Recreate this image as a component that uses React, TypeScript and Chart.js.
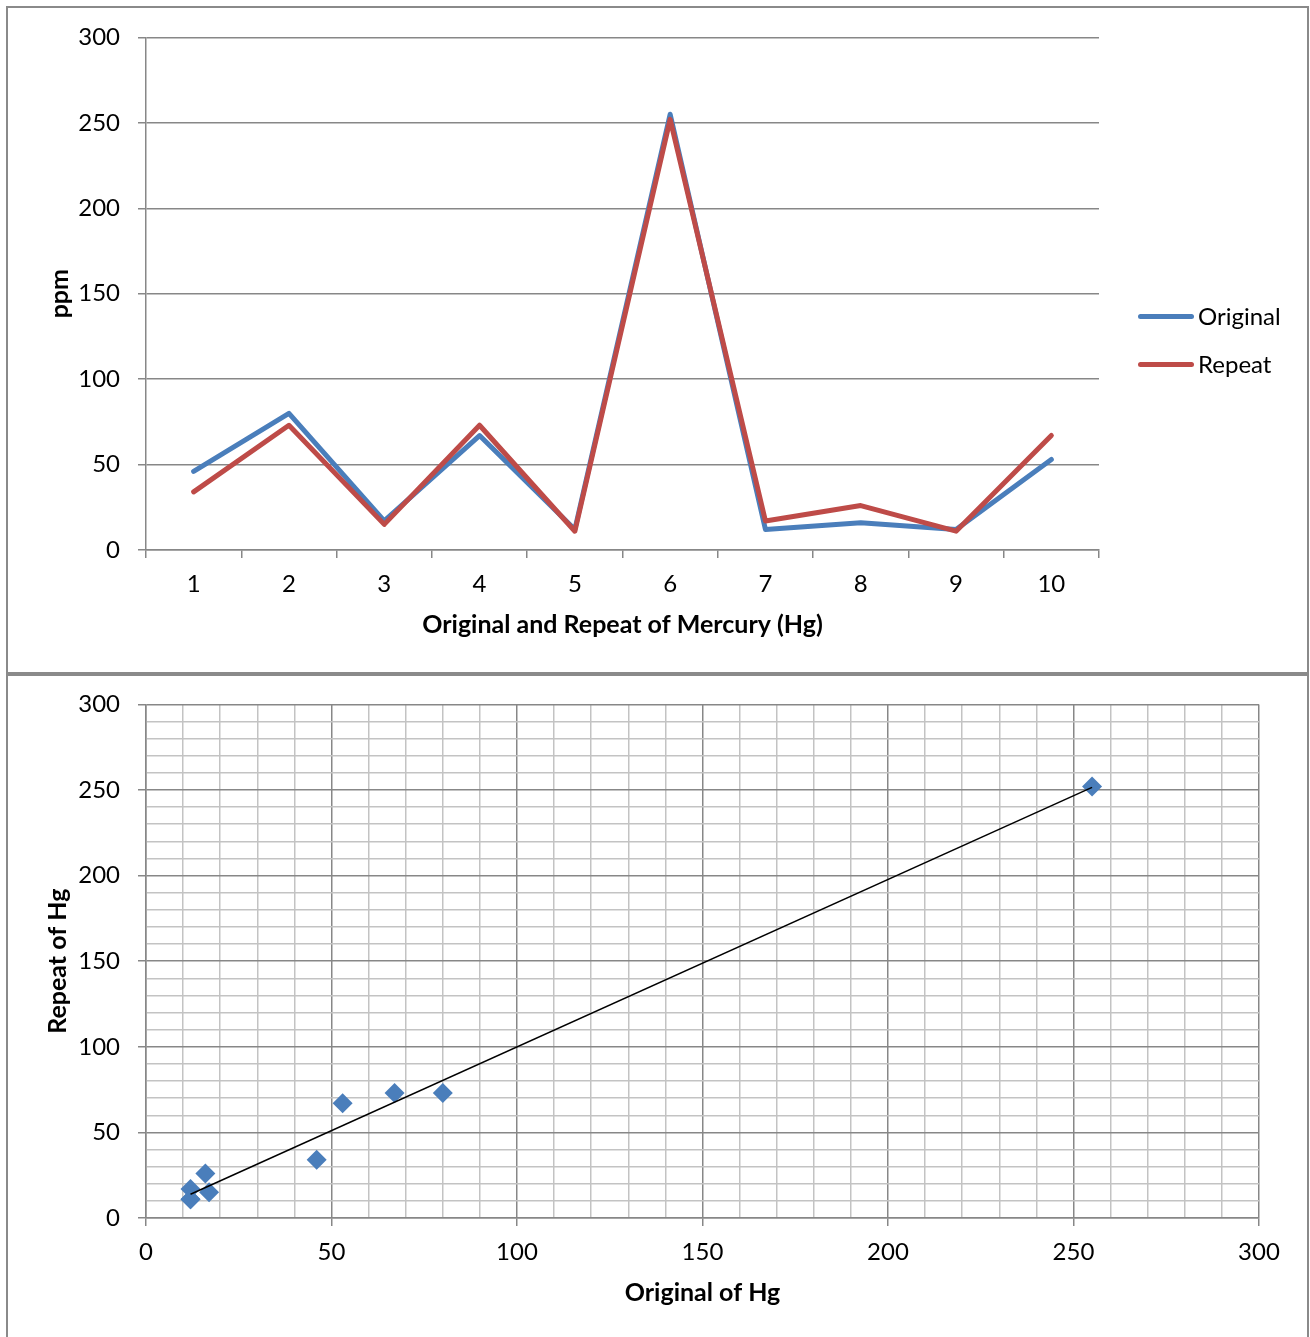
import React, { useEffect, useRef } from 'react';
import { Chart, registerables } from 'chart.js';

Chart.register(...registerables);

// Mercury (Hg) results, ppm: first analysis and repeat analysis for each sample
const samples = ['1', '2', '3', '4', '5', '6', '7', '8', '9', '10'];
const originalHg = [46, 80, 17, 67, 12, 255, 12, 16, 12, 53];
const repeatHg = [34, 73, 15, 73, 11, 252, 17, 26, 11, 67];
const seriesNames = ['Original', 'Repeat'];

const BLUE = '#4a7ebb';
const RED = '#be4b48';
const AXIS_GRAY = '#878787';
const MINOR_GRAY = '#c3c3c3';
const FONT = 'Lato, "Open Sans", sans-serif';

const tickFont = { family: FONT, size: 24 };
const titleFont = { family: FONT, size: 25, weight: 'bold' as const };

// least-squares line of repeat vs original
function fitLine(xs: number[], ys: number[]) {
  const n = xs.length;
  const mx = xs.reduce((a, b) => a + b, 0) / n;
  const my = ys.reduce((a, b) => a + b, 0) / n;
  let sxy = 0;
  let sxx = 0;
  for (let i = 0; i < n; i++) {
    sxy += (xs[i] - mx) * (ys[i] - my);
    sxx += (xs[i] - mx) * (xs[i] - mx);
  }
  const slope = sxy / sxx;
  const intercept = my - slope * mx;
  const x0 = Math.min(...xs);
  const x1 = Math.max(...xs);
  return [
    { x: x0, y: intercept + slope * x0 },
    { x: x1, y: intercept + slope * x1 },
  ];
}

function LineChart() {
  const ref = useRef<HTMLCanvasElement | null>(null);
  useEffect(() => {
    if (!ref.current) return;
    const chart = new Chart(ref.current, {
      type: 'line',
      data: {
        labels: samples,
        datasets: [
          {
            label: seriesNames[0],
            data: originalHg,
            borderColor: BLUE,
            backgroundColor: BLUE,
            borderWidth: 5,
            pointRadius: 0,
            tension: 0,
            borderJoinStyle: 'round',
            borderCapStyle: 'round',
            order: 1,
          },
          {
            label: seriesNames[1],
            data: repeatHg,
            borderColor: RED,
            backgroundColor: RED,
            borderWidth: 5,
            pointRadius: 0,
            tension: 0,
            borderJoinStyle: 'round',
            borderCapStyle: 'round',
            order: 0,
          },
        ],
      },
      options: {
        animation: false,
        responsive: false,
        devicePixelRatio: 1,
        layout: { padding: { left: 36, right: 208, top: 20, bottom: 20 } },
        plugins: { legend: { display: false }, tooltip: { enabled: false } },
        scales: {
          x: {
            offset: true,
            grid: {
              offset: true,
              drawOnChartArea: false,
              drawTicks: true,
              tickLength: 8,
              color: AXIS_GRAY,
              lineWidth: 1.5,
            },
            border: { display: true, color: AXIS_GRAY, width: 1.5 },
            ticks: { font: tickFont, color: '#000', padding: 12, maxRotation: 0 },
            title: {
              display: true,
              text: 'Original and Repeat of Mercury (Hg)',
              font: titleFont,
              color: '#000',
              padding: { top: 0, bottom: 11 },
            },
            afterFit: (s: any) => {
              s.height = 101;
            },
          },
          y: {
            min: 0,
            max: 300,
            ticks: { stepSize: 50, font: tickFont, color: '#000', padding: 18 },
            grid: { color: AXIS_GRAY, lineWidth: 1.5, tickLength: 8 },
            border: { display: true, color: AXIS_GRAY, width: 1.5 },
            title: {
              display: true,
              text: 'ppm',
              font: titleFont,
              color: '#000',
              padding: 0,
            },
            afterFit: (s: any) => {
              s.width = 101;
            },
          },
        },
      },
    } as any);
    return () => chart.destroy();
  }, []);
  return <canvas ref={ref} width={1298} height={666} style={{ display: 'block' }} />;
}

function ScatterChart() {
  const ref = useRef<HTMLCanvasElement | null>(null);
  useEffect(() => {
    if (!ref.current) return;
    const points = originalHg.map((x, i) => ({ x, y: repeatHg[i] }));
    const trend = fitLine(originalHg, repeatHg);
    const isMajor = (v: number) => Math.round(v) % 50 === 0;
    const gridColor = (ctx: any) => (ctx.tick && isMajor(ctx.tick.value) ? AXIS_GRAY : MINOR_GRAY);
    const tickColor = (ctx: any) => (ctx.tick && isMajor(ctx.tick.value) ? AXIS_GRAY : 'rgba(0,0,0,0)');
    const majorLabel = (v: any) => (isMajor(Number(v)) ? String(v) : '');
    const chart = new Chart(ref.current, {
      type: 'scatter',
      data: {
        datasets: [
          {
            label: 'Repeat of Hg',
            data: points,
            pointStyle: 'rectRot',
            pointRadius: 10,
            backgroundColor: BLUE,
            borderColor: BLUE,
            borderWidth: 0,
            order: 1,
          },
          {
            label: 'Linear trend',
            data: trend,
            type: 'line',
            showLine: true,
            borderColor: '#000',
            borderWidth: 1.5,
            pointRadius: 0,
            fill: false,
            order: 0,
          },
        ],
      },
      options: {
        animation: false,
        responsive: false,
        devicePixelRatio: 1,
        layout: { padding: { left: 34, right: 48, top: 20, bottom: 19 } },
        plugins: { legend: { display: false }, tooltip: { enabled: false } },
        scales: {
          x: {
            type: 'linear',
            min: 0,
            max: 300,
            ticks: {
              stepSize: 10,
              autoSkip: false,
              maxRotation: 0,
              font: tickFont,
              color: '#000',
              padding: 12,
              callback: majorLabel,
            },
            grid: { color: gridColor, tickColor, lineWidth: 1.5, tickLength: 8 },
            border: { display: true, color: AXIS_GRAY, width: 1.5 },
            title: {
              display: true,
              text: 'Original of Hg',
              font: titleFont,
              color: '#000',
              padding: { top: 0, bottom: 10 },
            },
            afterFit: (s: any) => {
              s.height = 100;
            },
          },
          y: {
            type: 'linear',
            min: 0,
            max: 300,
            ticks: {
              stepSize: 10,
              autoSkip: false,
              font: tickFont,
              color: '#000',
              padding: 18,
              callback: majorLabel,
            },
            grid: { color: gridColor, tickColor, lineWidth: 1.5, tickLength: 8 },
            border: { display: true, color: AXIS_GRAY, width: 1.5 },
            title: {
              display: true,
              text: 'Repeat of Hg',
              font: titleFont,
              color: '#000',
              padding: 0,
            },
            afterFit: (s: any) => {
              s.width = 103;
            },
          },
        },
      },
    } as any);
    return () => chart.destroy();
  }, []);
  return <canvas ref={ref} width={1298} height={665} style={{ display: 'block' }} />;
}

const legendColors = [BLUE, RED];
const legendCenters = [316, 364];

export default function App() {
  return (
    <div
      style={{
        position: 'absolute',
        left: 0,
        top: 0,
        width: 1310,
        height: 1337,
        overflow: 'hidden',
        background: '#fff',
        fontFamily: FONT,
      }}
    >
      <div
        style={{
          position: 'absolute',
          left: 6,
          top: 6,
          width: 1299,
          height: 664,
          border: '2px solid #8a8a8a',
        }}
      >
        <div style={{ position: 'absolute', left: 1, top: -3 }}>
          <LineChart />
        </div>
      </div>
      {seriesNames.map((name, i) => (
        <div
          key={name}
          style={{
            position: 'absolute',
            left: 1138,
            top: legendCenters[i] - 15,
            height: 30,
            display: 'flex',
            alignItems: 'center',
          }}
        >
          <div
            style={{
              width: 56,
              height: 5,
              borderRadius: 3,
              background: legendColors[i],
              marginRight: 4,
            }}
          />
          <span style={{ fontSize: 24, lineHeight: '30px', color: '#000' }}>{name}</span>
        </div>
      ))}
      <div
        style={{
          position: 'absolute',
          left: 6,
          top: 674,
          width: 1299,
          height: 700,
          border: '2px solid #8a8a8a',
        }}
      >
        <div style={{ position: 'absolute', left: 1, top: -4 }}>
          <ScatterChart />
        </div>
      </div>
    </div>
  );
}
